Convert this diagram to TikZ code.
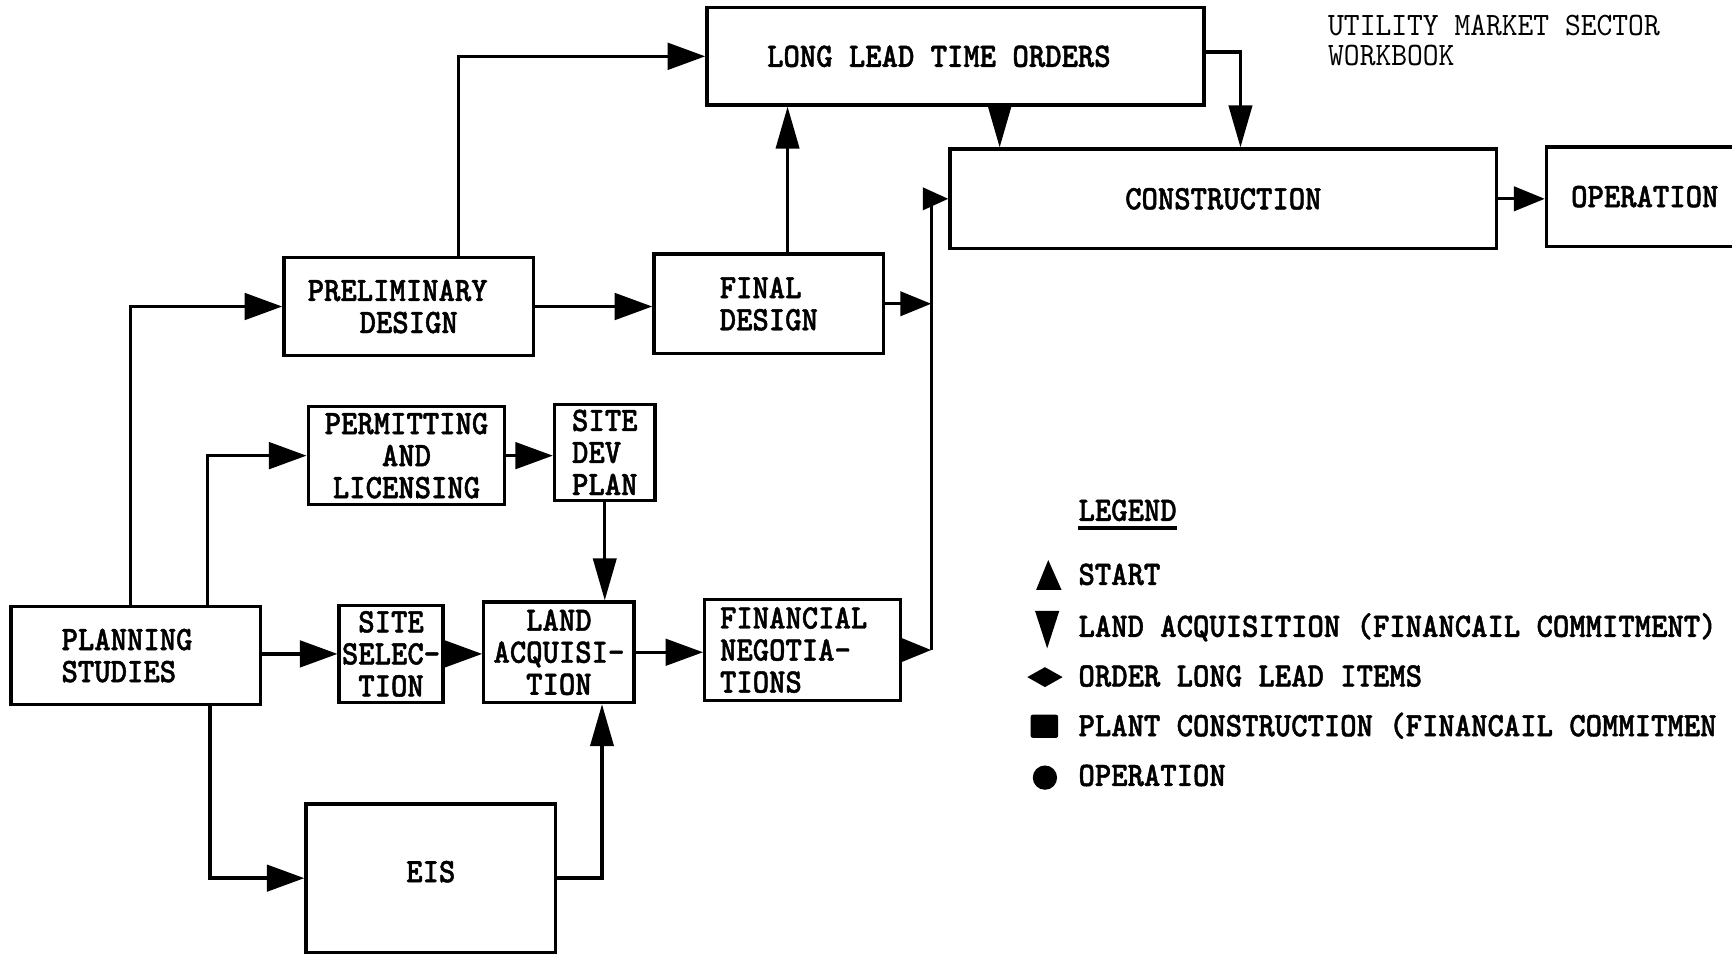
\documentclass[tikz,border=0pt]{standalone}
\usepackage{fontspec}
\usetikzlibrary{arrows.meta}
\newfontfamily\twb[Extension=.otf, FakeStretch=0.91, FakeBold=1.3]{lmmonolt10-bold}
\newfontfamily\twr[Extension=.otf, FakeStretch=0.92]{lmmono10-regular}
\newcommand\boxfont{\twb\fontsize{15.5pt}{14.5pt}\selectfont}
\newcommand\plainfont{\twr\fontsize{14.8pt}{13.5pt}\selectfont}
\begin{document}
\begin{tikzpicture}[x=0.5pt,y=-0.5pt,
  box/.style={draw, line width=1.5pt, inner sep=0pt, font=\boxfont, align=center},
  lbox/.style={box, align=left},
  arr/.style={line width=1.5pt, -{Triangle[length=17pt,width=12pt]}},
  varr/.style={line width=1.5pt, -{Triangle[length=19pt,width=10.5pt]}},
  sarr/.style={line width=1.5pt, -{Triangle[length=14pt,width=11pt]}},
  tarr/.style={line width=1.5pt, -{Triangle[length=11.5pt,width=10pt]}},
  legtext/.style={anchor=base west, inner sep=0pt, font=\boxfont},
  legsym/.style={fill=black}]
\useasboundingbox (0,0) rectangle (1568,865);
\clip (0,0) rectangle (1568,865);

% boxes
\node[box, minimum width=225pt, minimum height=44pt] (llto) at (865,51) {LONG LEAD TIME ORDERS\kern15pt};
\node[box, minimum width=247.5pt, minimum height=45pt] (cons) at (1107.5,180) {CONSTRUCTION};
\node[box, minimum width=89pt, minimum height=45pt] (oper) at (1489,178) {OPERATION};
\node[box, minimum width=113pt, minimum height=44.5pt] (prelim) at (370,277.5) {PRELIMINARY\kern10pt\\DESIGN};
\node[lbox, minimum width=104pt, minimum height=45pt] (final) at (696,275) {FINAL\\DESIGN};
\node[box, minimum width=89pt, minimum height=44.5pt] (permit) at (368,412.5) {PERMITTING\\AND\\LICENSING};
\node[lbox, minimum width=45.5pt, minimum height=43.5pt] (sdp) at (547.5,409.5) {SITE\\DEV\\PLAN};
\node[lbox, minimum width=113pt, minimum height=44.5pt] (plan) at (123,593.5) {PLANNING\kern8pt\\STUDIES};
\node[box, minimum width=47pt, minimum height=44pt] (ssel) at (354,592) {SITE\\SELEC-\\TION};
\node[box, minimum width=68pt, minimum height=45.5pt] (land) at (506,590.5) {LAND\\ACQUISI-\\TION};
\node[lbox, minimum width=88.5pt, minimum height=45.5pt] (fin) at (726.5,588.5) {FINANCIAL\kern8pt\\NEGOTIA-\\TIONS};
\node[box, minimum width=113pt, minimum height=67pt] (eis) at (390,795) {\raisebox{6pt}{EIS}};

% helper coordinates
\coordinate (a1) at (118,0);
\coordinate (b1) at (188,0);
\coordinate (d1) at (190,0);
\coordinate (h1) at (545,0);
\coordinate (bus) at (843,0);
\coordinate (k1) at (415,0);
\coordinate (l1) at (713,0);
\coordinate (m1) at (905,0);
\coordinate (n1) at (1123,47);

% connectors
\draw[arr] (plan.north -| a1) |- (prelim.west);
\draw[arr] (plan.north -| b1) |- (permit.west);
\draw[arr] (ssel.west -| plan.east) -- (ssel.west);
\draw[arr] (plan.south -| d1) |- (eis.west);
\draw[arr] (permit.east) -- (permit.east -| sdp.west);
\draw[varr] (sdp.south) -- (sdp.south |- land.north);
\draw[arr] (ssel.east) -- (ssel.east -| land.west);
\draw[varr] (eis.east) -| (land.south -| h1);
\draw[arr] (land.east) -- (land.east -| fin.west);
\draw[sarr] (fin.east) -- (fin.east -| bus);
\draw[sarr] (final.east) -- (final.east -| bus);
\draw[line width=1.5pt] (fin.east -| bus) -- (cons.west -| bus);
\draw[tarr] ([xshift=-1pt]cons.west -| bus) -- (cons.west);
\draw[arr] (prelim.north -| k1) |- (llto.west);
\draw[varr] (final.north -| l1) -- (llto.south -| l1);
\draw[varr] (llto.south -| m1) -- (cons.north -| m1);
\draw[varr] (llto.east |- n1) -| (cons.north -| n1);
\draw[arr] (prelim.east) -- (prelim.east -| final.west);
\draw[sarr] (cons.east) -- (cons.east -| oper.west);

% title
\node[anchor=base west, inner sep=0pt, font=\plainfont] (ut1) at (1202,32) {UTILITY MARKET SECTOR};
\node[anchor=base west, inner sep=0pt, font=\plainfont] (ut2) at (1202,59) {WORKBOOK};

% legend
\node[legtext] (lg) at (976,471.5) {LEGEND};
\draw[line width=1.5pt] ([yshift=-3.3pt]lg.base west) -- ([yshift=-3.3pt]lg.base east);
\node[legtext] (l1t) at (976,529.5) {START};
\node[legtext] (l2t) at (976,576.5) {LAND ACQUISITION (FINANCAIL COMMITMENT)};
\node[legtext] (l3t) at (976,621.5) {ORDER LONG LEAD ITEMS};
\node[legtext] (l4t) at (976,666.5) {PLANT CONSTRUCTION (FINANCAIL COMMITMEN};
\node[legtext] (l5t) at (976,711.5) {OPERATION};
\fill[legsym] (949,507) -- (961,534) -- (938,534) -- cycle;
\fill[legsym] (937,553) -- (959,553) -- (948,587) -- cycle;
\fill[legsym] (930,613) -- (946,604) -- (962,613) -- (946,622) -- cycle;
\fill[legsym, rounded corners=1pt] (933,647) rectangle (958,668);
\fill[legsym] (946,704) circle[radius=5.5pt];
\end{tikzpicture}
\end{document}
